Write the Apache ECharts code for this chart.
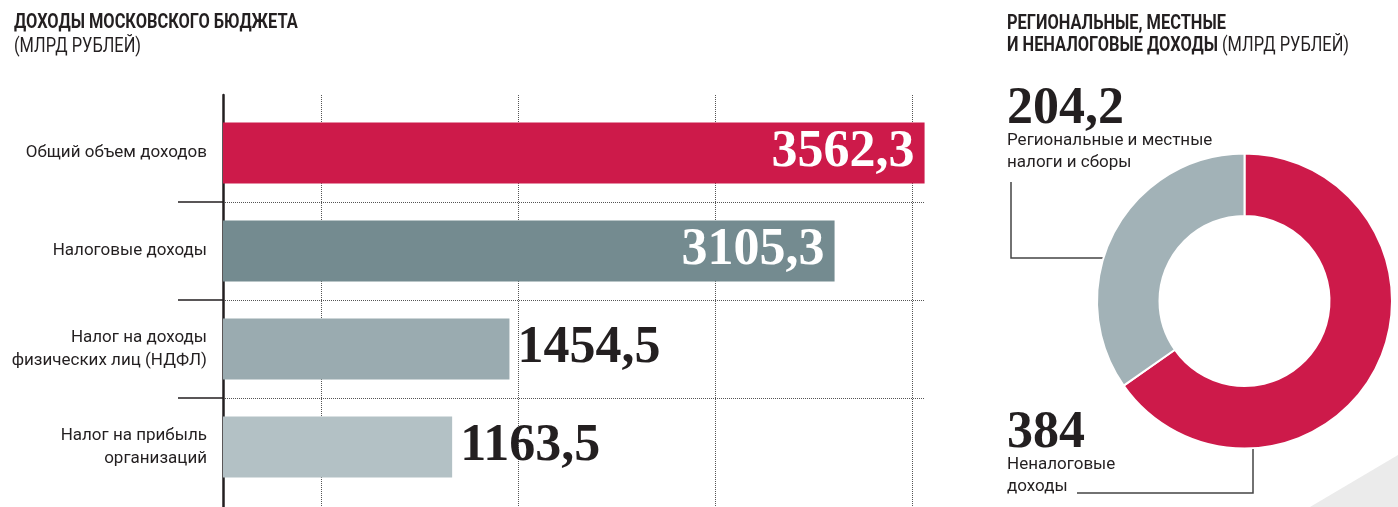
<!DOCTYPE html>
<html>
<head>
<meta charset="utf-8">
<script src="https://cdn.jsdelivr.net/npm/echarts@6/dist/echarts.min.js"></script>
<style>
  html, body { margin: 0; padding: 0; background: #fff; }
  #chart { width: 1398px; height: 507px; }
</style>
</head>
<body>
<div id="chart"></div>
<script>
// bar chart data
const categories = [
  'Общий объем доходов',
  'Налоговые доходы',
  'Налог на доходы\nфизических лиц (НДФЛ)',
  'Налог на прибыль\nорганизаций'
]
const values = [3562.3, 3105.3, 1454.5, 1163.5]
const barColors = ['#cd1a4a', '#748b90', '#9aabb0', '#b3c1c5']

// donut data
const pieNames = ['Неналоговые\nдоходы', 'Региональные и местные\nналоги и сборы']
const pieValues = [384, 204.2]
const pieColors = ['#cd1a4a', '#a2b2b7']

const SANS = 'Roboto, "DejaVu Sans Condensed", sans-serif'
const SERIF = '"Liberation Serif", "DejaVu Serif", serif'
const INK = '#231f20'

const fmt = v => String(v).replace('.', ',')

const chart = echarts.init(document.getElementById('chart'))

// headings are squeezed horizontally to mimic the condensed face
const headRich = lh => ({
  b: { fontFamily: SANS, fontWeight: 'bold', fontSize: 20, lineHeight: lh, fill: INK },
  r: { fontFamily: SANS, fontSize: 20, lineHeight: lh, fill: INK }
})

const option = {
  backgroundColor: '#fff',
  animation: false,
  graphic: [
    {
      type: 'polygon', z: -10, silent: true,
      shape: { points: [[1310, 507], [1398, 455], [1398, 507]] },
      style: { fill: '#ebebeb' }
    },
    {
      type: 'text', x: 14, y: 11, scaleX: 0.82, silent: true,
      style: {
        text: '{b|ДОХОДЫ МОСКОВСКОГО БЮДЖЕТА}\n{r|(МЛРД РУБЛЕЙ)}',
        rich: headRich(24), align: 'left', verticalAlign: 'top'
      }
    },
    {
      type: 'text', x: 1007, y: 13, scaleX: 0.82, silent: true,
      style: {
        text: '{b|РЕГИОНАЛЬНЫЕ, МЕСТНЫЕ}\n{b|И НЕНАЛОГОВЫЕ ДОХОДЫ}{r| (МЛРД РУБЛЕЙ)}',
        rich: headRich(22), align: 'left', verticalAlign: 'top'
      }
    }
  ],
  grid: [
    // bars
    { left: 223, top: 104, width: 709, height: 392, outerBoundsMode: 'none' },
    // vertical dotted lines + main axis line
    { left: 321.5, top: 95, width: 590.8, height: 412, outerBoundsMode: 'none' },
    // horizontal separators
    { left: 223, top: 202, width: 702, height: 196, outerBoundsMode: 'none' }
  ],
  xAxis: [
    { gridIndex: 0, type: 'value', min: 0, max: 3600, show: false },
    {
      gridIndex: 1, type: 'value', min: 500, max: 3500, interval: 1000,
      axisLine: { show: false }, axisTick: { show: false }, axisLabel: { show: false },
      splitLine: { show: true, lineStyle: { color: '#555', width: 1, type: [1, 1] } }
    },
    { gridIndex: 2, type: 'value', min: 0, max: 1, show: false }
  ],
  yAxis: [
    {
      gridIndex: 0, type: 'category', data: categories, inverse: true,
      axisLine: { show: false }, axisTick: { show: false }, splitLine: { show: false },
      axisLabel: {
        margin: 16, fontFamily: SANS, fontSize: 17, lineHeight: 23, color: INK, align: 'right'
      }
    },
    {
      gridIndex: 1, type: 'value', min: 0, max: 1, offset: 98.5,
      axisLine: { show: true, lineStyle: { color: INK, width: 2.5 } },
      axisTick: { show: false }, axisLabel: { show: false }, splitLine: { show: false }
    },
    {
      gridIndex: 2, type: 'value', min: 1, max: 3, interval: 1,
      axisLine: { show: false },
      axisTick: { show: true, inside: false, length: 45, lineStyle: { color: INK, width: 1.5 } },
      axisLabel: { show: false },
      splitLine: { show: true, lineStyle: { color: '#555', width: 1, type: [1, 1] } }
    }
  ],
  series: [
    {
      type: 'bar', xAxisIndex: 0, yAxisIndex: 0, barWidth: 61,
      data: values.map((v, i) => ({
        value: v,
        itemStyle: { color: barColors[i] },
        label: i < 2
          ? { position: 'insideRight', distance: 10, color: '#fff' }
          : { position: 'right', distance: 8, color: INK }
      })),
      label: {
        show: true,
        fontFamily: SERIF, fontWeight: 'bold', fontSize: 52,
        formatter: p => fmt(p.value)
      }
    },
    {
      type: 'pie',
      center: [1244.5, 301],
      radius: [85, 147.5],
      startAngle: 90,
      clockwise: true,
      avoidLabelOverlap: false,
      itemStyle: { borderColor: '#fff', borderWidth: 2 },
      data: pieValues.map((v, i) => ({ value: v, name: pieNames[i], itemStyle: { color: pieColors[i] } })),
      label: {
        show: true, position: 'outside',
        formatter: p => '{v|' + fmt(p.value) + '}\n{n|' + p.name + '}',
        rich: {
          v: { fontFamily: SERIF, fontWeight: 'bold', fontSize: 52, lineHeight: 41, color: INK },
          n: { fontFamily: SANS, fontSize: 17, lineHeight: 22, color: INK }
        }
      },
      labelLine: { show: true, lineStyle: { color: '#444', width: 1.5 } },
      labelLayout: p => p.dataIndex === 0
        ? { x: 1007, y: 413, align: 'left', verticalAlign: 'top',
            labelLinePoints: [[1077, 493], [1253, 493], [1253, 448]] }
        : { x: 1007, y: 89, align: 'left', verticalAlign: 'top',
            labelLinePoints: [[1011, 182], [1011, 258], [1106, 258]] }
    }
  ]
}

chart.setOption(option)
</script>
</body>
</html>
